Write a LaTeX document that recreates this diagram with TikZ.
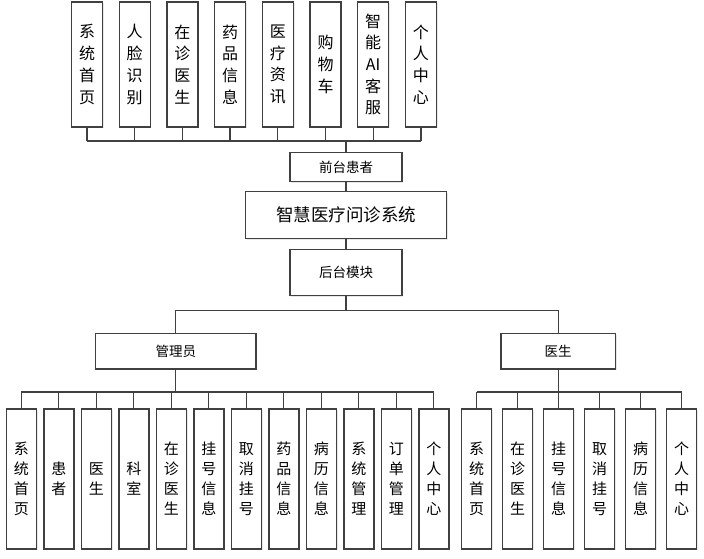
\documentclass[tikz,border=0pt]{standalone}
\usepackage{fontspec}
\setmainfont{Noto Sans CJK SC}
\usetikzlibrary{shadows}
\definecolor{edge}{HTML}{404040}
\tikzset{
  box/.style={draw=edge, line width=1.4pt, fill=white, inner sep=0pt, anchor=center,
    drop shadow={opacity=0.18, shadow xshift=1.2pt, shadow yshift=-1.2pt}},
  topbox/.style={box, minimum width=31pt, minimum height=125pt, align=center,
    font=\fontsize{16}{21.7}\selectfont},
  leafbox/.style={box, minimum width=30pt, minimum height=140pt, align=center,
    font=\fontsize{15}{20}\selectfont},
  midbox/.style={box, font=\fontsize{13.5}{16}\selectfont},
  conn/.style={draw=edge, line width=1.3pt}
}
\begin{document}
\begin{tikzpicture}[x=1pt,y=-1pt]
\useasboundingbox (0,0) rectangle (704,559);
% top row
\foreach \i/\t in {0/{系\\统\\首\\页},1/{人\\脸\\识\\别},2/{在\\诊\\医\\生},3/{药\\品\\信\\息},4/{医\\疗\\资\\讯},5/{购\\物\\车},6/{智\\能\\AI\\客\\服},7/{个\\人\\中\\心}}{
  \node[topbox] (t\i) at ({87+47.7*\i},64.5) {\t};
}
\node[midbox, minimum width=111.7pt, minimum height=28.6pt] (front) at (346,167) {前台患者};
\node[box, minimum width=201.4pt, minimum height=46.6pt, font=\fontsize{17.5}{20}\selectfont] (sys) at (346,215) {智慧医疗问诊系统};
\node[midbox, minimum width=111.7pt, minimum height=46.4pt] (back) at (346,272.5) {后台模块};
\node[midbox, minimum width=160.3pt, minimum height=35.7pt] (admin) at (175.8,351.2) {管理员};
\node[midbox, minimum width=114.3pt, minimum height=35.7pt] (doc) at (558.2,351.2) {医生};
% admin leaves
\foreach \i/\t in {0/{系\\统\\首\\页},1/{患\\者},2/{医\\生},3/{科\\室},4/{在\\诊\\医\\生},5/{挂\\号\\信\\息},6/{取\\消\\挂\\号},7/{药\\品\\信\\息},8/{病\\历\\信\\息},9/{系\\统\\管\\理},10/{订\\单\\管\\理},11/{个\\人\\中\\心}}{
  \node[leafbox] (a\i) at ({21.3+37.5*\i},479) {\t};
}
% doctor leaves
\foreach \i/\t in {0/{系\\统\\首\\页},1/{在\\诊\\医\\生},2/{挂\\号\\信\\息},3/{取\\消\\挂\\号},4/{病\\历\\信\\息},5/{个\\人\\中\\心}}{
  \node[leafbox] (d\i) at ({476.5+41*\i},479) {\t};
}
% connectors top
\coordinate (tbus) at (346,141);
\draw[conn] (t0.south |- tbus) -- (t7.south |- tbus);
\foreach \i in {0,...,7}{ \draw[conn] (t\i.south) -- (t\i.south |- tbus); }
\draw[conn] (tbus) -- (front.north);
\draw[conn] (front.south) -- (sys.north);
\draw[conn] (sys.south) -- (back.north);
% back to admin / doctor
\coordinate (mbus) at (346,310.3);
\draw[conn] (back.south) -- (mbus);
\draw[conn] (admin.north) -- (admin.north |- mbus) -- (doc.north |- mbus) -- (doc.north);
% admin bus
\coordinate (abus) at (175.8,392);
\draw[conn] (admin.south) -- (abus);
\draw[conn] (a0.north |- abus) -- (a11.north |- abus);
\foreach \i in {0,...,11}{ \draw[conn] (a\i.north |- abus) -- (a\i.north); }
% doctor bus
\coordinate (dbus) at (558.2,392);
\draw[conn] (doc.south) -- (dbus);
\draw[conn] (d0.north |- dbus) -- (d5.north |- dbus);
\foreach \i in {0,...,5}{ \draw[conn] (d\i.north |- dbus) -- (d\i.north); }
\end{tikzpicture}
\end{document}
